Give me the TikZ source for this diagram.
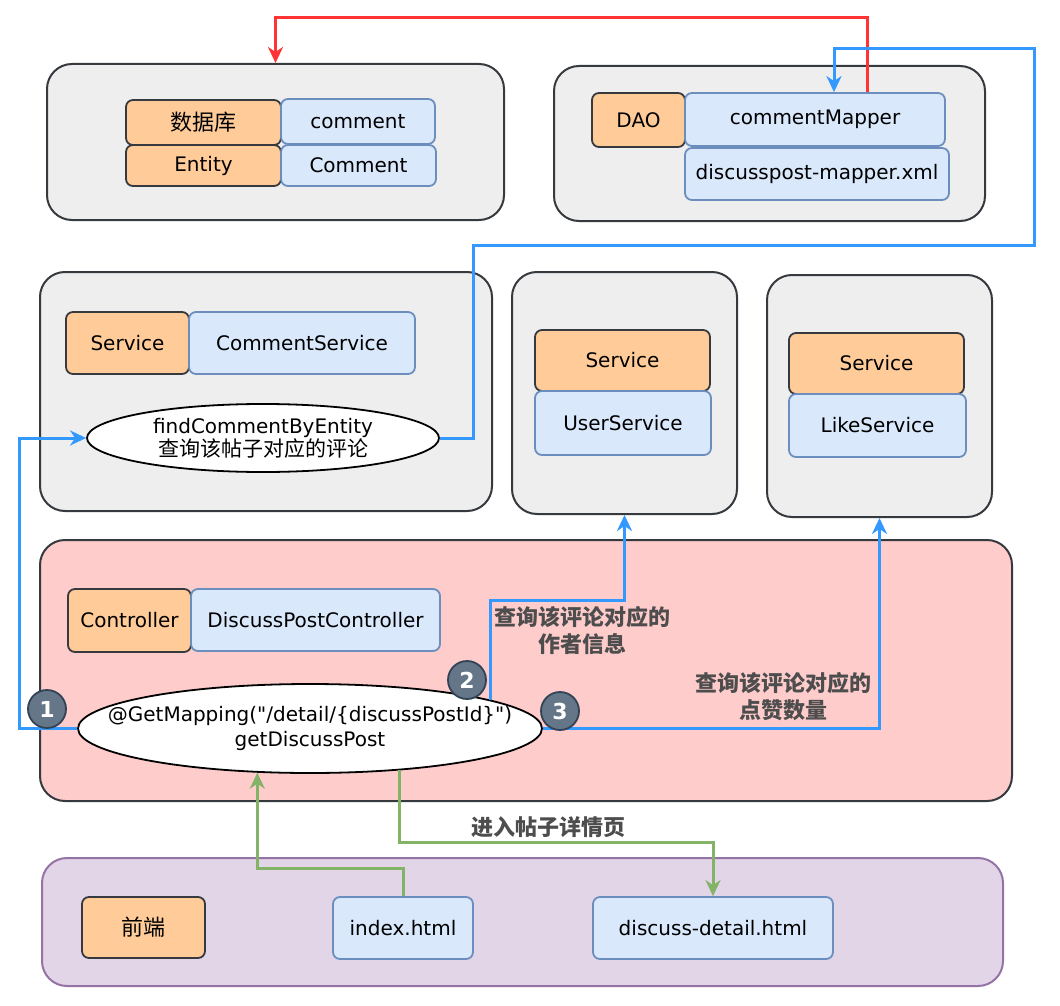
\documentclass[tikz,border=0pt]{standalone}
\usepackage{fontspec}
\setmainfont{DejaVu Sans}
\newfontfamily\cjk{Noto Sans CJK SC}
\usetikzlibrary{shapes.geometric,arrows.meta}
\definecolor{orF}{HTML}{FFCC99}
\definecolor{drk}{HTML}{36393D}
\definecolor{blF}{HTML}{DAE8FC}
\definecolor{blD}{HTML}{6C8EBF}
\definecolor{grF}{HTML}{EEEEEE}
\definecolor{pkF}{HTML}{FFCCCC}
\definecolor{puF}{HTML}{E1D5E7}
\definecolor{puD}{HTML}{9673A6}
\definecolor{arB}{HTML}{3399FF}
\definecolor{arR}{HTML}{FF3333}
\definecolor{arG}{HTML}{82B366}
\definecolor{bdF}{HTML}{647687}
\definecolor{bdD}{HTML}{314354}
\definecolor{lbl}{HTML}{4D4D4D}
\newcommand\zhtext[1]{{\cjk\fontsize{22}{25}\selectfont #1}}
\newcommand\zhell[1]{{\cjk\fontsize{21}{25}\selectfont #1}}
\begin{document}
\begin{tikzpicture}[x=1pt,y=-1pt,
  txt/.style={font=\fontsize{20}{25}\selectfont, text=black},
  cont/.style={draw=drk, line width=2, rounded corners=25, fill=grF},
  obox/.style={txt, draw=drk, line width=1.8, rounded corners=7, fill=orF, inner sep=0},
  bbox/.style={txt, draw=blD, line width=1.8, rounded corners=7, fill=blF, inner sep=0},
  ell/.style={ellipse, draw=black, line width=1.8, fill=white, inner sep=0},
  etxt/.style={txt, align=center, inner sep=0},
  badge/.style={circle, fill=bdF, draw=bdD, line width=1.8, minimum size=38, inner sep=0, text=white, font=\fontsize{22}{24}\selectfont\bfseries},
  tip/.style={-{Stealth[length=16pt,width=15pt,inset=5pt]}},
  barr/.style={draw=arB, line width=3, tip},
  rarr/.style={draw=arR, line width=3, tip},
  garr/.style={draw=arG, line width=3, tip},
  lab/.style={text=lbl, align=center, font=\cjk\bfseries\fontsize{22}{27}\selectfont}
]
\fill[white] (0,0) rectangle (1060,1006);
\useasboundingbox (0,0) rectangle (1060,1006);

% containers
\node[cont, minimum width=457, minimum height=156] (c1) at (275.5,142) {};
\node[cont, minimum width=431, minimum height=155] (c2) at (769.5,143.5) {};
\node[cont, minimum width=452, minimum height=239] (c3) at (266,391.5) {};
\node[cont, minimum width=225, minimum height=242] (c4) at (624.5,393) {};
\node[cont, minimum width=225, minimum height=242] (c5) at (879.5,396) {};
\node[cont, fill=pkF, minimum width=972, minimum height=261] (c6) at (526,670.5) {};
\node[cont, fill=puF, draw=puD, minimum width=961, minimum height=128] (c7) at (522.5,922) {};

% top-left
\node[obox, minimum width=155, minimum height=45] (db) at (203.5,122.5) {\zhtext{数据库}};
\node[bbox, minimum width=154, minimum height=45] (cmt) at (358,121.5) {comment};
\node[obox, minimum width=155, minimum height=41] (ent) at (203.5,165.5) {Entity};
\node[bbox, minimum width=155, minimum height=41] (Cmt) at (358.5,165.5) {Comment};

% DAO
\node[obox, minimum width=93, minimum height=54] (dao) at (638.5,120) {DAO};
\node[bbox, minimum width=260, minimum height=53] (cm) at (815,119.5) {commentMapper};
\node[bbox, minimum width=264, minimum height=52] (xml) at (817,174) {discusspost-mapper.xml};

% comment service
\node[obox, minimum width=123, minimum height=62] (s1) at (127.5,343) {Service};
\node[bbox, minimum width=226, minimum height=62] (cs) at (302,343) {CommentService};
\node[ell, minimum width=352, minimum height=68,
  label={[etxt]center:findCommentByEntity\\[-2pt]\zhell{查询该帖子对应的评论}}] (e1) at (263,438) {};

% user service
\node[obox, minimum width=175, minimum height=61] (s2) at (622.5,360.5) {Service};
\node[bbox, minimum width=176, minimum height=64] (us) at (623,423) {UserService};

% like service
\node[obox, minimum width=175, minimum height=61] (s3) at (876.5,363.5) {Service};
\node[bbox, minimum width=177, minimum height=63] (ls) at (877.5,425.5) {LikeService};

% controller
\node[obox, minimum width=123, minimum height=63] (ctl) at (129.5,620.5) {Controller};
\node[bbox, minimum width=249, minimum height=62] (dpc) at (315.5,620) {DiscussPostController};
\node[ell, minimum width=464, minimum height=89,
  label={[etxt]center:@GetMapping(\textquotedbl/detail/\{discussPostId\}\textquotedbl)\\getDiscussPost}] (e2) at (310,728.5) {};

% front end
\node[obox, minimum width=123, minimum height=61] (fe) at (143.5,927.5) {\zhtext{前端}};
\node[bbox, minimum width=140, minimum height=62] (idx) at (403,928) {index.html};
\node[bbox, minimum width=240, minimum height=62] (det) at (713,928) {discuss-detail.html};

% connectors
\draw[rarr] ([xshift=52]cm.north) -- ++(0,-75) -| (c1.north);
\draw[barr] (e1.east) -| (473,245) -| (1034,49) -| ([xshift=19]cm.north);
\draw[barr] (e2.west) -| (19,438) -- (e1.west);
\coordinate (k2) at (624.5,600);
\draw[barr] (e2.9.8) |- (k2) -- (c4.south);
\draw[barr] (e2.east) -| (c5.south);
\draw[garr] (idx.north) -- ++(0,-28) -| (e2.220);
\draw[garr] (e2.335.5) -- ++(0,72.5) -| (det.north);

% badges
\node[badge] (b1) at (47,709) {1};
\node[badge] (b2) at (467,680) {2};
\node[badge] (b3) at (560,711) {3};

% labels
\node[lab] (l1) at (582,631) {查询该评论对应的\\作者信息};
\node[lab] (l2) at (783,697) {查询该评论对应的\\点赞数量};
\node[lab] (l3) at (548,827) {进入帖子详情页};
\end{tikzpicture}
\end{document}
